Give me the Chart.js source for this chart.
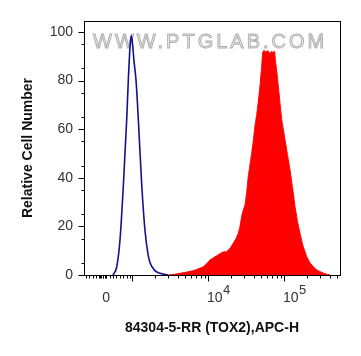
<!DOCTYPE html>
<html>
<head>
<meta charset="utf-8">
<script src="https://cdn.jsdelivr.net/npm/chart.js@4.4.1/dist/chart.umd.min.js"></script>
<style>
  html, body { margin: 0; padding: 0; background: #fff; }
</style>
</head>
<body>
<canvas id="histo" width="361" height="356"></canvas>
<script>
// x = display position on the logicle axis, in decades (3 = 10^3, 4 = 10^4, 5 = 10^5)
// y = relative cell number (% of mode)

// isotype control (blue outline)
const controlX = [2.750, 2.799, 2.842, 2.886, 2.930, 2.951, 2.974, 2.989, 3.004, 3.026,
                  3.053, 3.083, 3.128, 3.171, 3.211, 3.237, 3.303, 3.368, 3.474];
const controlY = [0, 3.4, 14.5, 36.9, 64, 80, 94, 98.5, 96, 88,
                  80, 64, 36.9, 18.2, 8.5, 5, 1.8, 0.7, 0];

// 84304-5-RR (TOX2) stained cells (red filled)
const toxX = [3.474, 3.566, 3.632, 3.724, 3.807, 3.868, 3.938, 3.987, 4.026, 4.066,
              4.114, 4.158, 4.197, 4.246, 4.289, 4.333, 4.368, 4.399, 4.421, 4.443,
              4.467, 4.487, 4.509, 4.530, 4.553, 4.575, 4.599, 4.618, 4.641, 4.664,
              4.684, 4.704, 4.720, 4.737, 4.757, 4.776, 4.796, 4.816, 4.836, 4.855,
              4.875, 4.888, 4.908, 4.925, 4.947, 4.970, 4.991, 5.013, 5.046, 5.079,
              5.112, 5.145, 5.178, 5.211, 5.250, 5.299, 5.342, 5.386, 5.428, 5.474,
              5.539, 5.605];
const toxY = [0, 0.3, 0.7, 1.2, 1.8, 2.5, 3.4, 4.8, 6.2, 7,
              7.9, 8.8, 9.5, 9.6, 11, 13.1, 15, 17.2, 20, 24.1,
              27, 28.9, 34, 40.6, 45.5, 50.3, 56, 61.3, 66, 72,
              77.8, 85, 91.5, 92.5, 91.6, 92.3, 92, 91.2, 92, 91.6,
              92, 88, 83, 77.8, 71, 64, 60, 55.8, 49.5, 43.4,
              36, 28.2, 22, 17.2, 12, 7.6, 5, 3.4, 2.2, 1.4,
              0.5, 0];

// axis
const X_MIN = 2.368, X_MAX = 5.737, X_ZERO = 2.658;
const xMajorTicks = [3, 4, 5];
const xLabels = [
  { at: X_ZERO, base: '0', exp: '' },
  { at: 4, base: '10', exp: '4' },
  { at: 5, base: '10', exp: '5' }
];
const yMajorTicks = [0, 20, 40, 60, 80, 100];
const Y_MAX = 104.5;

// minor ticks: log minors per decade, plus the compressed region near zero
const xMinorTicks = [];
for (let d = 3; d <= 5; d++) {
  for (let k = 2; k <= 9; k++) {
    const u = d + Math.log10(k);
    if (u < X_MAX) xMinorTicks.push(u);
  }
}
for (let u = 2.39; u < 2.975; u += 0.045) xMinorTicks.push(u);
for (let u = 2.575; u < 2.67; u += 0.022) xMinorTicks.push(u);
const yMinorTicks = [];
for (let v = 5; v < 100; v += 10) yMinorTicks.push(v);

const toPts = (xs, ys) => xs.map((x, i) => ({ x: x, y: ys[i] }));

const decor = {
  id: 'decor',
  beforeDatasetsDraw(chart) {
    const { ctx, chartArea } = chart;
    ctx.save();
    ctx.font = '20px "Liberation Sans", Arial, sans-serif';
    ctx.letterSpacing = '3px';
    ctx.textBaseline = 'middle';
    ctx.textAlign = 'left';
    ctx.fillStyle = 'rgba(238,238,238,0.95)';
    ctx.strokeStyle = 'rgba(165,165,165,0.85)';
    ctx.lineWidth = 1;
    ctx.fillText('WWW.PTGLAB.COM', chartArea.left + 9, chartArea.top + 21);
    ctx.strokeText('WWW.PTGLAB.COM', chartArea.left + 9, chartArea.top + 21);
    ctx.restore();
  },
  afterDraw(chart) {
    const { ctx, chartArea } = chart;
    const xs = chart.scales.x, ys = chart.scales.y;
    ctx.save();
    ctx.strokeStyle = '#000';
    ctx.lineWidth = 1;
    // frame
    ctx.strokeRect(Math.round(chartArea.left) + 0.5, Math.round(chartArea.top) + 0.5,
      Math.round(chartArea.right - chartArea.left), Math.round(chartArea.bottom - chartArea.top));
    const bottom = Math.round(chartArea.bottom) + 0.5;
    const left = Math.round(chartArea.left) + 0.5;
    ctx.beginPath();
    xMajorTicks.forEach(v => {
      const px = Math.round(xs.getPixelForValue(v)) + 0.5;
      ctx.moveTo(px, bottom); ctx.lineTo(px, bottom + 6);
    });
    xMinorTicks.forEach(v => {
      const px = Math.round(xs.getPixelForValue(v)) + 0.5;
      ctx.moveTo(px, bottom); ctx.lineTo(px, bottom + 3);
    });
    yMajorTicks.forEach(v => {
      const py = Math.round(ys.getPixelForValue(v)) + 0.5;
      ctx.moveTo(left, py); ctx.lineTo(left - 6, py);
    });
    yMinorTicks.forEach(v => {
      const py = Math.round(ys.getPixelForValue(v)) + 0.5;
      ctx.moveTo(left, py); ctx.lineTo(left - 3, py);
    });
    ctx.stroke();
    // x tick labels with superscripts
    ctx.fillStyle = '#333';
    ctx.textBaseline = 'middle';
    xLabels.forEach(l => {
      const px = xs.getPixelForValue(l.at);
      ctx.font = '14px "Liberation Sans", Arial, sans-serif';
      if (!l.exp) {
        ctx.textAlign = 'center';
        ctx.fillText(l.base, px, 298);
      } else {
        ctx.textAlign = 'left';
        const w = ctx.measureText(l.base).width;
        ctx.fillText(l.base, px - 1, 298);
        ctx.font = '13px "Liberation Sans", Arial, sans-serif';
        ctx.fillText(l.exp, px - 1 + w + 0.5, 290);
      }
    });
    ctx.restore();
  }
};

new Chart(document.getElementById('histo'), {
  type: 'line',
  data: {
    datasets: [
      {
        data: toPts(controlX, controlY),
        borderColor: '#12128e',
        borderWidth: 1.6,
        fill: false,
        pointRadius: 0,
        cubicInterpolationMode: 'monotone',
        order: 1
      },
      {
        data: toPts(toxX, toxY),
        borderColor: '#ff0000',
        backgroundColor: '#ff0000',
        borderWidth: 1,
        fill: 'origin',
        pointRadius: 0,
        tension: 0.1,
        order: 2
      }
    ]
  },
  options: {
    responsive: false,
    animation: false,
    devicePixelRatio: 1,
    layout: { padding: { top: 21, right: 21, left: 0, bottom: 0 } },
    plugins: { legend: { display: false }, tooltip: { enabled: false } },
    scales: {
      x: {
        type: 'linear',
        min: X_MIN,
        max: X_MAX,
        grid: { display: false, drawTicks: false },
        border: { display: false },
        ticks: { display: false },
        afterFit: s => { s.height = 81; },
        title: {
          display: true,
          text: '84304-5-RR (TOX2),APC-H',
          color: '#111',
          font: { family: '"Liberation Sans", Arial, sans-serif', size: 14, weight: 'bold' },
          padding: { top: 0, bottom: 19.6 }
        }
      },
      y: {
        type: 'linear',
        min: 0,
        max: Y_MAX,
        grid: { display: false, drawTicks: false },
        border: { display: false },
        afterBuildTicks: s => { s.ticks = yMajorTicks.map(v => ({ value: v })); },
        afterFit: s => { s.width = 84; },
        ticks: {
          padding: 11,
          color: '#333',
          font: { family: '"Liberation Sans", Arial, sans-serif', size: 14 }
        },
        title: {
          display: true,
          text: 'Relative Cell Number',
          color: '#111',
          font: { family: '"Liberation Sans", Arial, sans-serif', size: 14, weight: 'bold' },
          padding: { top: 19.6, bottom: 0 }
        }
      }
    }
  },
  plugins: [decor]
});
</script>
</body>
</html>
